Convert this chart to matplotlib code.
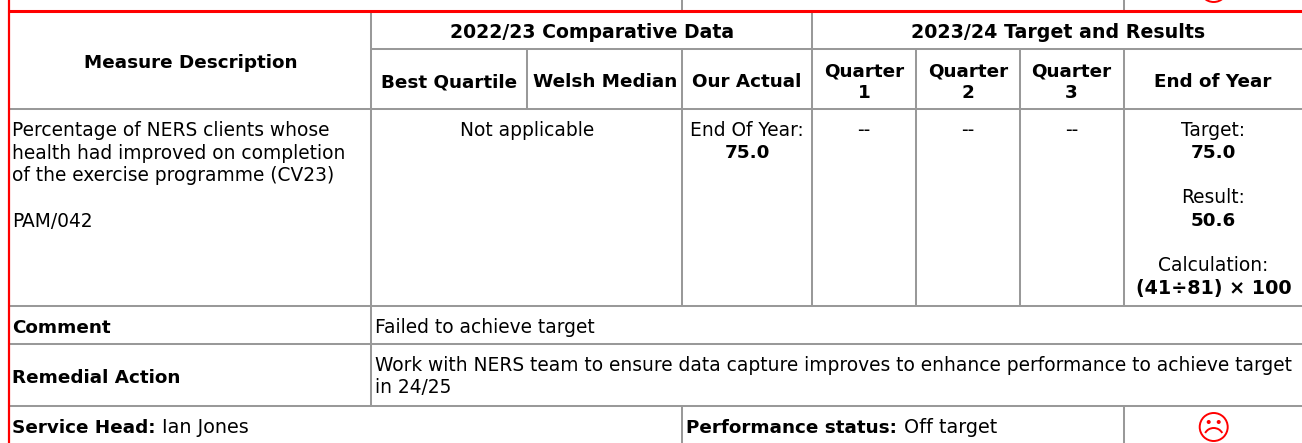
import matplotlib
matplotlib.use("Agg")
import matplotlib.pyplot as plt
from matplotlib.patches import Circle, Arc

plt.rcParams['font.family'] = ['DejaVu Sans']

W, H = 1302, 443
GREY = '#999999'
RED = '#ff0000'
FS = 13.45
FS_BOLD = 13.2

# table contents
header_main = ['Measure Description', '2022/23 Comparative Data', '2023/24 Target and Results']
header_sub = ['Best Quartile', 'Welsh Median', 'Our Actual', 'End of Year']
quarters = ['Quarter\n1', 'Quarter\n2', 'Quarter\n3']
quarter_values = ['--', '--', '--']
description = ['Percentage of NERS clients whose', 'health had improved on completion',
               'of the exercise programme (CV23)']
measure_code = 'PAM/042'
comparative = 'Not applicable'
actual_label, actual_value = 'End Of Year:', '75.0'
target_label, target_value = 'Target:', '75.0'
result_label, result_value = 'Result:', '50.6'
calc_label, calc_value = 'Calculation:', '(41÷81) × 100'
comment_label, comment_text = 'Comment', 'Failed to achieve target'
remedial_label = 'Remedial Action'
remedial_text = ['Work with NERS team to ensure data capture improves to enhance performance to achieve target',
                 'in 24/25']
head_label, head_name = 'Service Head:', 'Ian Jones'
status_label, status_text = 'Performance status:', 'Off target'

fig = plt.figure(figsize=(W / 100, H / 100), dpi=100)
ax = fig.add_axes([0, 0, 1, 1])
ax.set_xlim(0, W)
ax.set_ylim(H, 0)
ax.axis('off')


def hline(y, x0, x1, color=GREY, lw=1.45):
    ax.plot([x0, x1], [y, y], color=color, lw=lw, solid_capstyle='butt')


def vline(x, y0, y1, color=GREY, lw=1.45):
    ax.plot([x, x], [y0, y1], color=color, lw=lw, solid_capstyle='butt')


def txt(x, y, s, bold=False, ha='center', size=None):
    if size is None:
        size = FS_BOLD if bold else FS
    return ax.text(x, y, s, ha=ha, va='baseline', color='black', fontsize=size,
                   fontweight='bold' if bold else 'normal')


def bold_then_plain(x, y, label, value):
    t = txt(x, y, label, bold=True, ha='left')
    box = t.get_window_extent(fig.canvas.get_renderer())
    txt(box.x1 + 7, y, value, ha='left', size=13.8)


def sad_face(cx, cy, r=14):
    ax.add_patch(Circle((cx, cy), r, fill=False, ec=RED, lw=1.4))
    ax.add_patch(Circle((cx - 5, cy - 5), 2, fc=RED, ec='none'))
    ax.add_patch(Circle((cx + 5, cy - 5), 2, fc=RED, ec='none'))
    # y axis points down, so the arc is flipped
    ax.add_patch(Arc((cx, cy + 10), 19, 18, theta1=205, theta2=335, ec=RED, lw=1.4))


# grid lines
hline(49, 371, W)
hline(108.5, 8, W)
for y in [306, 344, 406]:
    hline(y, 8, W)
vline(371, 11, 406)
vline(527, 49, 108.5)
vline(682, 0, 11)
vline(682, 49, 306)
vline(812, 11, 306)
vline(916, 49, 306)
vline(1020, 49, 306)
vline(1123.5, 49, 306)
vline(682, 406, H)
vline(1123.5, 0, 11)
vline(1123.5, 406, H)

# red border
hline(11, 8, W, color=RED, lw=2.2)
vline(8.5, 0, H, color=RED, lw=1.6)

# header
txt(190.5, 68, header_main[0], bold=True)
txt(592.5, 38, header_main[1], bold=True, size=13.6)
txt(1058.5, 38, header_main[2], bold=True, size=13.7)
for cx, s in zip([449, 605, 747, 1213], header_sub):
    txt(cx, 87, s, bold=True)
for cx, s in zip([864, 968, 1071.5], quarters):
    line1, line2 = s.split('\n')
    txt(cx, 76, line1, bold=True)
    txt(cx, 98, line2, bold=True)

# measure row
for y, s in zip([136, 159, 181], description):
    txt(12, y, s, ha='left')
txt(12, 227, measure_code, ha='left')
txt(527, 136, comparative)
txt(747, 136, actual_label)
txt(747, 158, actual_value, bold=True)
for cx, s in zip([864, 968, 1071.5], quarter_values):
    txt(cx, 136, s)
txt(1213, 136, target_label)
txt(1213, 158, target_value, bold=True)
txt(1213, 203, result_label)
txt(1213, 226, result_value, bold=True)
txt(1213, 271, calc_label)
txt(1213.5, 294, calc_value, bold=True, size=13.8)

# comment rows
txt(12, 333, comment_label, bold=True, ha='left')
txt(375, 333, comment_text, ha='left')
txt(12, 383, remedial_label, bold=True, ha='left')
txt(375, 371, remedial_text[0], ha='left')
txt(375, 393, remedial_text[1], ha='left')

# footer
bold_then_plain(12, 433, head_label, head_name)
bold_then_plain(686, 433, status_label, status_text)
sad_face(1213.7, 427)
sad_face(1213.7, -12)

fig.savefig('out.png', dpi=100)
